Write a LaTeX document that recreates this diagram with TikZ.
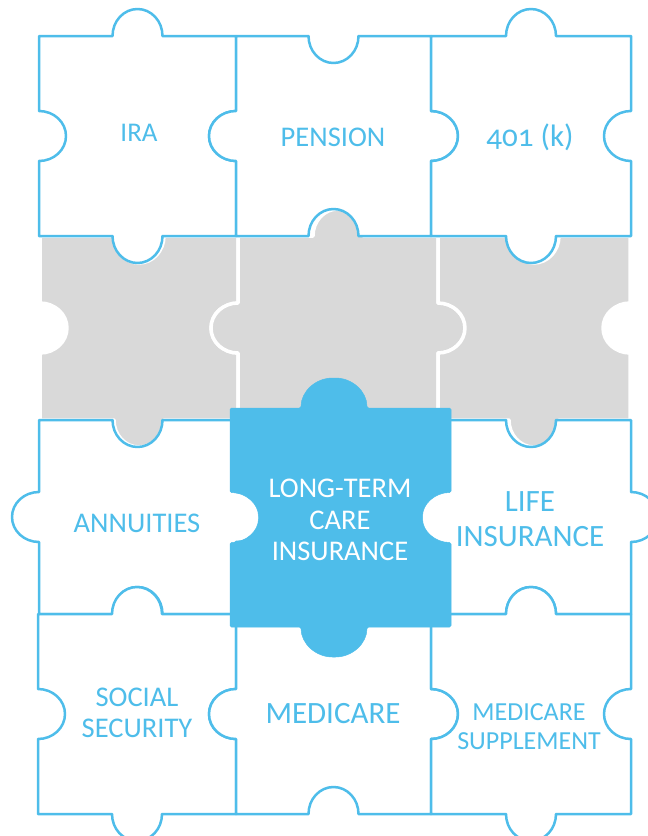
\documentclass[tikz,border=0pt]{standalone}
\usepackage{fontspec}
\setmainfont{Carlito}[Numbers=OldStyle]
\definecolor{pzblue}{HTML}{4EBDEA}
\definecolor{pzgray}{HTML}{D9D9D9}

% tab geometry: top/bottom tab half-width and depth, side tab half-width and depth
\newcommand\pzk{0.5523}
\newcommand\pzw{25}
\newcommand\pzd{27}
\newcommand\pzsw{25}
\newcommand\pzsd{27}
\newcommand\pzdx{0}

% #1 style, #2 left, #3 top, #4 right, #5 bottom,
% #6..#9 tabs on top, right, bottom, left (1 = knob out, -1 = hole, 0 = flat)
\newcommand\pzpiece[9]{%
  \pgfmathsetmacro\pzcx{(#2+#4)/2+\pzdx}%
  \pgfmathsetmacro\pzcy{(#3+#5)/2}%
  \path[#1] (#2,#3)
    -- ({\pzcx-\pzw},#3)
    .. controls ({\pzcx-\pzw},{#3-(#6)*\pzk*\pzd}) and ({\pzcx-\pzk*\pzw},{#3-(#6)*\pzd}) .. ({\pzcx},{#3-(#6)*\pzd})
    .. controls ({\pzcx+\pzk*\pzw},{#3-(#6)*\pzd}) and ({\pzcx+\pzw},{#3-(#6)*\pzk*\pzd}) .. ({\pzcx+\pzw},#3)
    -- (#4,#3)
    -- (#4,{\pzcy-\pzsw})
    .. controls ({#4+(#7)*\pzk*\pzsd},{\pzcy-\pzsw}) and ({#4+(#7)*\pzsd},{\pzcy-\pzk*\pzsw}) .. ({#4+(#7)*\pzsd},\pzcy)
    .. controls ({#4+(#7)*\pzsd},{\pzcy+\pzk*\pzsw}) and ({#4+(#7)*\pzk*\pzsd},{\pzcy+\pzsw}) .. (#4,{\pzcy+\pzsw})
    -- (#4,#5)
    -- ({\pzcx+\pzw},#5)
    .. controls ({\pzcx+\pzw},{#5+(#8)*\pzk*\pzd}) and ({\pzcx+\pzk*\pzw},{#5+(#8)*\pzd}) .. ({\pzcx},{#5+(#8)*\pzd})
    .. controls ({\pzcx-\pzk*\pzw},{#5+(#8)*\pzd}) and ({\pzcx-\pzw},{#5+(#8)*\pzk*\pzd}) .. ({\pzcx-\pzw},#5)
    -- (#2,#5)
    -- (#2,{\pzcy+\pzsw})
    .. controls ({#2-(#9)*\pzk*\pzsd},{\pzcy+\pzsw}) and ({#2-(#9)*\pzsd},{\pzcy+\pzk*\pzsw}) .. ({#2-(#9)*\pzsd},\pzcy)
    .. controls ({#2-(#9)*\pzsd},{\pzcy-\pzk*\pzsw}) and ({#2-(#9)*\pzk*\pzsd},{\pzcy-\pzsw}) .. (#2,{\pzcy-\pzsw})
    -- cycle;}

\begin{document}
\begin{tikzpicture}[x=1pt,y=-1pt,
  blank/.style={fill=pzgray,draw=white,line width=3.5pt,line join=round},
  piece/.style={fill=white,draw=pzblue,line width=2.5pt,line join=round},
  hilite/.style={fill=pzblue,draw=pzblue,line width=0.5pt,rounded corners=1.5pt},
  lbl/.style={text=pzblue,align=center,inner sep=0pt},
  lblw/.style={text=white,align=center,inner sep=0pt}]
\useasboundingbox (0,0) rectangle (648,836);

% empty middle row
\pzpiece{blank}{40}{236}{238}{420}{-1}{-1}{1}{-1}
\pzpiece{blank}{238}{236}{438}{420}{1}{1}{0}{1}
\pzpiece{blank}{438}{236}{630}{420}{-1}{-1}{1}{-1}

% top row
\pzpiece{piece}{39}{36}{236}{236}{1}{-1}{1}{-1}
\pzpiece{piece}{236}{36}{431}{236}{-1}{1}{-1}{1}
\pzpiece{piece}{431}{36}{631}{236}{1}{-1}{1}{-1}

% third row
\pzpiece{piece}{39}{420}{236}{614}{-1}{1}{-1}{1}
\pzpiece{piece}{431}{420}{631}{614}{-1}{1}{-1}{1}

% bottom row
\pzpiece{piece}{38}{614}{236}{814}{1}{-1}{1}{-1}
\pzpiece{piece}{236}{614}{431}{814}{-1}{1}{-1}{1}
\pzpiece{piece}{431}{614}{631}{814}{1}{-1}{1}{-1}

% raised centre piece
\begin{scope}
\renewcommand\pzw{33}\renewcommand\pzd{30}
\renewcommand\pzsw{25}\renewcommand\pzsd{28.5}
\renewcommand\pzdx{-6.5}
\pzpiece{hilite}{230}{408}{451}{627}{1}{-1}{1}{-1}
\end{scope}

% labels
\node[lbl,font=\fontsize{27}{31}\selectfont] (ira) at (139,133) {IRA};
\node[lbl,font=\fontsize{28.5}{32}\selectfont] (pension) at (333,137) {PENSION};
\node[lbl,font=\fontsize{31}{35}\selectfont] (plan401k) at (530,137) {401 (k)};
\node[lbl,font=\fontsize{28.5}{32}\selectfont] (annuities) at (137,523) {ANNUITIES};
\node[lblw,font=\fontsize{28.5}{31.5}\selectfont] (ltc) at (340,520) {LONG-TERM\\CARE\\INSURANCE};
\node[lbl,font=\fontsize{31}{35}\selectfont] (life) at (530,519) {LIFE\\INSURANCE};
\node[lbl,font=\fontsize{28.5}{31}\selectfont] (social) at (137,713) {SOCIAL\\SECURITY};
\node[lbl,font=\fontsize{31}{35}\selectfont] (medicare) at (333,714) {MEDICARE};
\node[lbl,font=\fontsize{26}{29}\selectfont] (medsupp) at (529,727) {MEDICARE\\SUPPLEMENT};
\end{tikzpicture}
\end{document}
